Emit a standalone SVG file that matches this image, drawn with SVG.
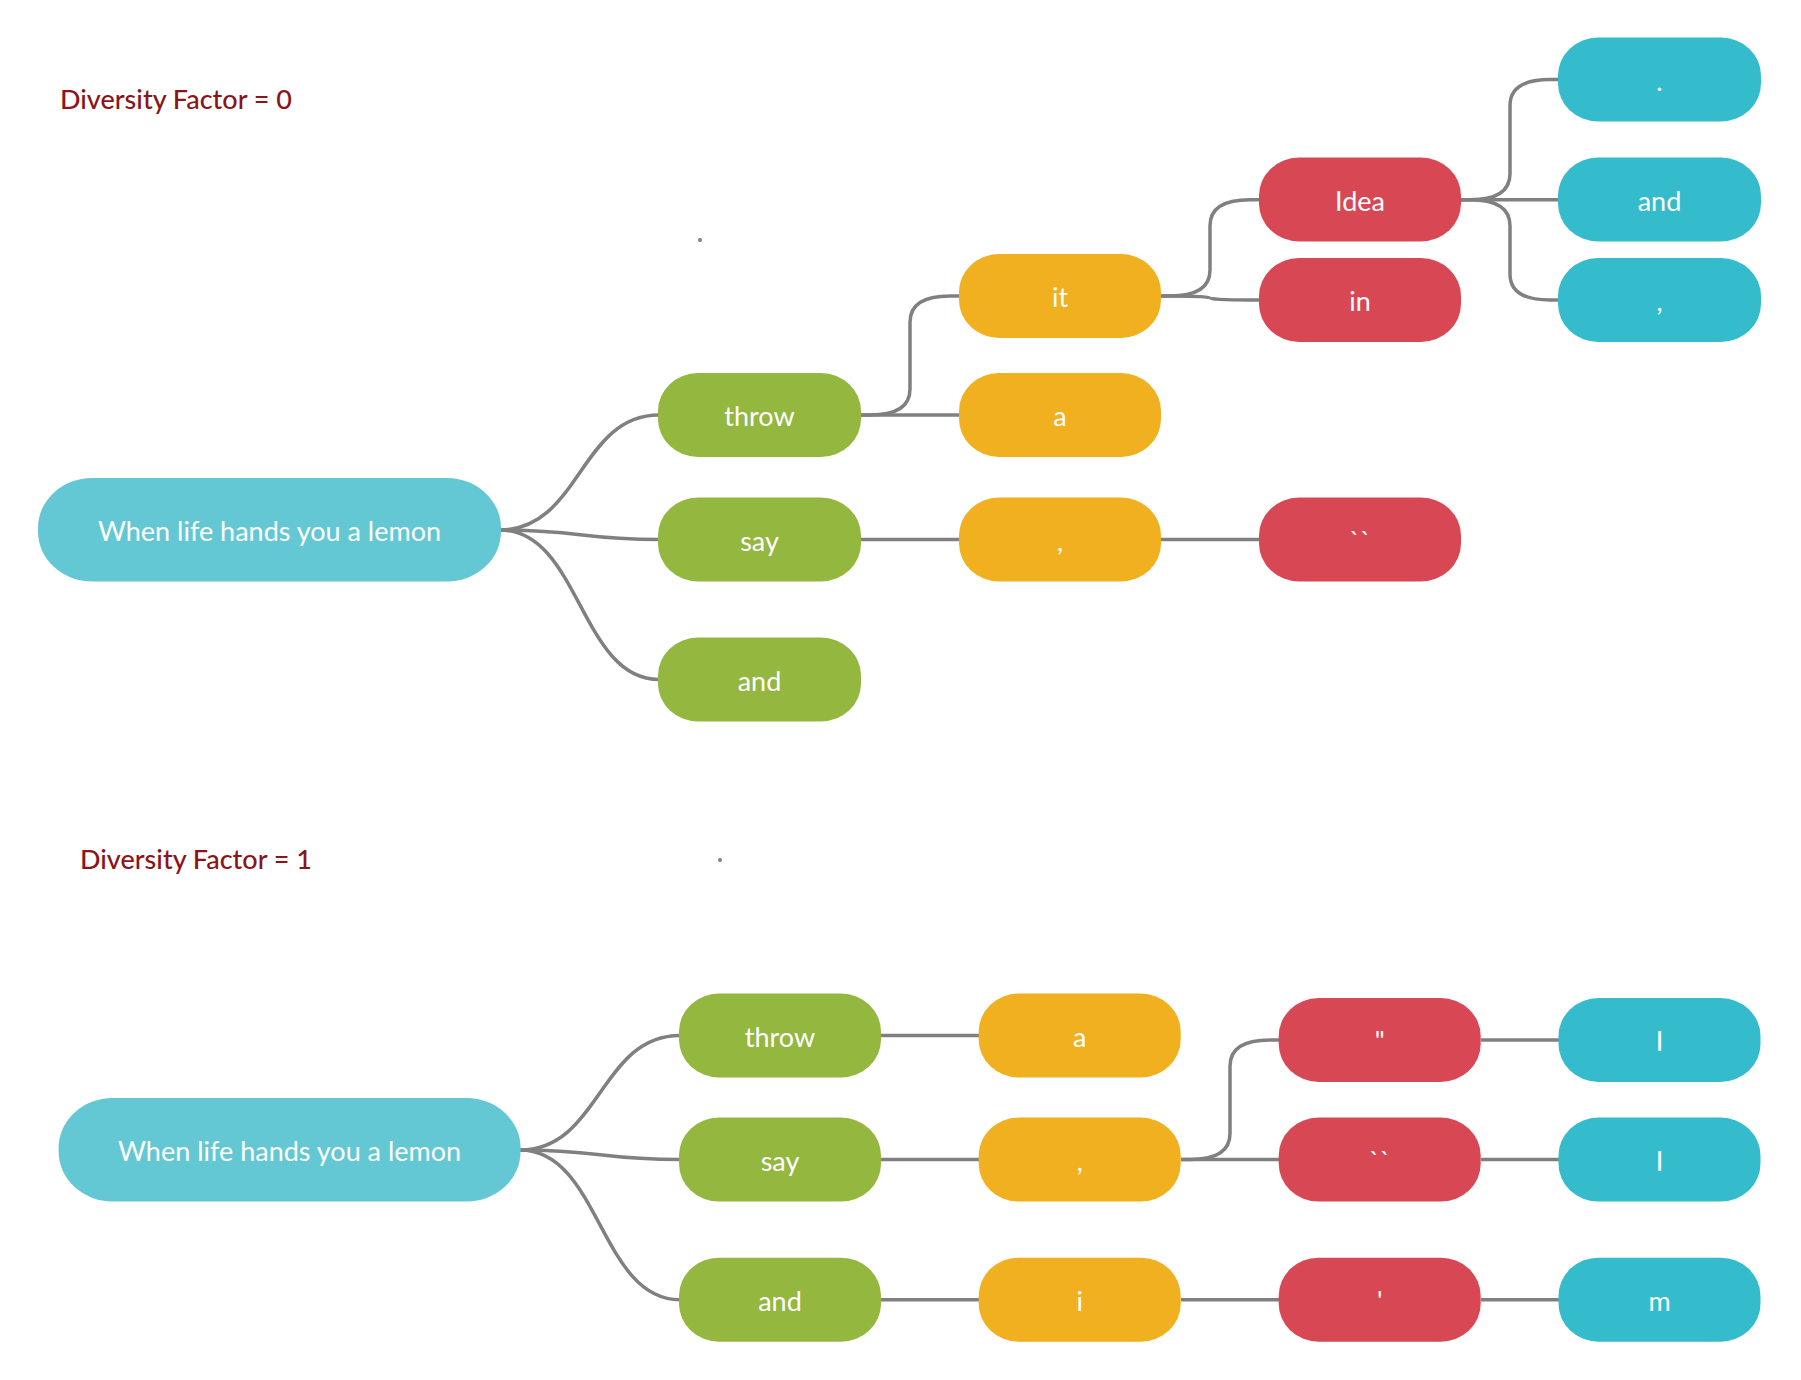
<svg xmlns="http://www.w3.org/2000/svg" width="1801" height="1380" viewBox="0 0 1801 1380">
<style>
  .bg{fill:#ffffff}
  .title{font-family:Lato,"Liberation Sans",sans-serif;font-size:27px;fill:#8a1519;font-weight:500}
  .lbl{font-family:Lato,"Liberation Sans",sans-serif;font-size:27px;fill:#ffffff;text-anchor:middle}
  .root{fill:#64c8d4}
  .g{fill:#93b73f}
  .o{fill:#f0b01f}
  .r{fill:#d84854}
  .c{fill:#34bccd}
  .edges path{fill:none;stroke:#808080;stroke-width:3.5;stroke-linecap:butt}
  .dot{fill:#808080}
</style>
<rect class="bg" x="0" y="0" width="1801" height="1380"/>

<text class="title" x="60" y="108.5">Diversity Factor = 0</text>
<text class="title" x="80" y="868.5">Diversity Factor = 1</text>
<circle class="dot" cx="700" cy="240" r="2"/>
<circle class="dot" cx="720" cy="860" r="2"/>

<g class="edges" id="connectors">
  <!-- top tree -->
  <path d="M 500 530 C 580 530 580 415 659 415"/>
  <path d="M 500 530 C 580 530 580 539.5 659 539.5"/>
  <path d="M 500 530 C 580 530 580 679.5 659 679.5"/>
  <path d="M 861 415 H 870 C 898 415 910 406 910 389 V 322 C 910 305 922 296 950 296 H 960"/>
  <path d="M 861 415 H 960"/>
  <path d="M 861 539.5 H 960"/>
  <path d="M 1161 296 H 1170 C 1198 296 1210 287 1210 270 V 225.7 C 1210 208.7 1222 199.7 1250 199.7 H 1260"/>
  <path d="M 1161 296 H 1170 C 1198 296 1210 297 1210 298 C 1210 299 1222 300 1250 300 H 1260"/>
  <path d="M 1161 539.5 H 1260"/>
  <path d="M 1461 199.7 H 1470 C 1498 199.7 1510 190.7 1510 173.7 V 105.6 C 1510 88.6 1522 79.6 1550 79.6 H 1559"/>
  <path d="M 1461 199.7 H 1559"/>
  <path d="M 1461 199.7 H 1470 C 1498 199.7 1510 208.7 1510 225.7 V 274 C 1510 291 1522 300 1550 300 H 1559"/>
  <!-- bottom tree -->
  <path d="M 520 1150 C 600 1150 600 1035.5 680 1035.5"/>
  <path d="M 520 1150 C 600 1150 600 1159.6 680 1159.6"/>
  <path d="M 520 1150 C 600 1150 600 1299.7 680 1299.7"/>
  <path d="M 881 1035.5 H 979"/>
  <path d="M 881 1159.6 H 979"/>
  <path d="M 881 1299.7 H 979"/>
  <path d="M 1181 1159.6 H 1190 C 1218 1159.6 1230 1150.6 1230 1133.6 V 1066 C 1230 1049 1242 1040 1270 1040 H 1279"/>
  <path d="M 1181 1159.6 H 1279"/>
  <path d="M 1181 1299.7 H 1279"/>
  <path d="M 1481 1040 H 1559"/>
  <path d="M 1481 1159.6 H 1559"/>
  <path d="M 1481 1299.7 H 1559"/>
</g>

<!-- top tree nodes -->
<g id="t-root"><rect class="root" x="38" y="478" width="463" height="103.5" rx="54" ry="50"/><text class="lbl" x="269.5" y="541">When life hands you a lemon</text></g>
<g id="t-throw"><rect class="g" x="658" y="373" width="203" height="84" rx="40" ry="38"/><text class="lbl" x="759.5" y="426">throw</text></g>
<g id="t-say"><rect class="g" x="658" y="497.5" width="203" height="84" rx="40" ry="38"/><text class="lbl" x="759.5" y="550.5">say</text></g>
<g id="t-and"><rect class="g" x="658" y="637.5" width="203" height="84" rx="40" ry="38"/><text class="lbl" x="759.5" y="690.5">and</text></g>
<g id="t-it"><rect class="o" x="959" y="254" width="202" height="84" rx="40" ry="38"/><text class="lbl" x="1060" y="307">it</text></g>
<g id="t-a"><rect class="o" x="959" y="373" width="202" height="84" rx="40" ry="38"/><text class="lbl" x="1060" y="426">a</text></g>
<g id="t-comma"><rect class="o" x="959" y="497.5" width="202" height="84" rx="40" ry="38"/><text class="lbl" x="1060" y="550.5">,</text></g>
<g id="t-idea"><rect class="r" x="1259" y="157.5" width="202" height="84" rx="40" ry="38"/><text class="lbl" x="1360" y="210.5">Idea</text></g>
<g id="t-in"><rect class="r" x="1259" y="258" width="202" height="84" rx="40" ry="38"/><text class="lbl" x="1360" y="311">in</text></g>
<g id="t-bt"><rect class="r" x="1259" y="497.5" width="202" height="84" rx="40" ry="38"/><text class="lbl" x="1360" y="550.5">``</text></g>
<g id="t-dot"><rect class="c" x="1558" y="37.5" width="203" height="84" rx="40" ry="38"/><text class="lbl" x="1659.5" y="90.5">.</text></g>
<g id="t-and2"><rect class="c" x="1558" y="157.5" width="203" height="84" rx="40" ry="38"/><text class="lbl" x="1659.5" y="210.5">and</text></g>
<g id="t-comma2"><rect class="c" x="1558" y="258" width="203" height="84" rx="40" ry="38"/><text class="lbl" x="1659.5" y="311">,</text></g>

<!-- bottom tree nodes -->
<g id="b-root"><rect class="root" x="58.6" y="1098" width="462" height="103.5" rx="54" ry="50"/><text class="lbl" x="289.6" y="1161">When life hands you a lemon</text></g>
<g id="b-throw"><rect class="g" x="679" y="993.5" width="202" height="84" rx="40" ry="38"/><text class="lbl" x="780" y="1046.5">throw</text></g>
<g id="b-say"><rect class="g" x="679" y="1117.6" width="202" height="84" rx="40" ry="38"/><text class="lbl" x="780" y="1170.6">say</text></g>
<g id="b-and"><rect class="g" x="679" y="1257.7" width="202" height="84" rx="40" ry="38"/><text class="lbl" x="780" y="1310.7">and</text></g>
<g id="b-a"><rect class="o" x="978.7" y="993.5" width="202" height="84" rx="40" ry="38"/><text class="lbl" x="1079.7" y="1046.5">a</text></g>
<g id="b-comma"><rect class="o" x="978.7" y="1117.6" width="202" height="84" rx="40" ry="38"/><text class="lbl" x="1079.7" y="1170.6">,</text></g>
<g id="b-i"><rect class="o" x="978.7" y="1257.7" width="202" height="84" rx="40" ry="38"/><text class="lbl" x="1079.7" y="1310.7">i</text></g>
<g id="b-dq"><rect class="r" x="1278.7" y="998" width="202" height="84" rx="40" ry="38"/><text class="lbl" x="1379.7" y="1051">"</text></g>
<g id="b-bt"><rect class="r" x="1278.7" y="1117.6" width="202" height="84" rx="40" ry="38"/><text class="lbl" x="1379.7" y="1170.6">``</text></g>
<g id="b-sq"><rect class="r" x="1278.7" y="1257.7" width="202" height="84" rx="40" ry="38"/><text class="lbl" x="1379.7" y="1310.7">'</text></g>
<g id="b-I1"><rect class="c" x="1558.5" y="998" width="202" height="84" rx="40" ry="38"/><text class="lbl" x="1659.5" y="1051">I</text></g>
<g id="b-I2"><rect class="c" x="1558.5" y="1117.6" width="202" height="84" rx="40" ry="38"/><text class="lbl" x="1659.5" y="1170.6">I</text></g>
<g id="b-m"><rect class="c" x="1558.5" y="1257.7" width="202" height="84" rx="40" ry="38"/><text class="lbl" x="1659.5" y="1310.7">m</text></g>
</svg>
